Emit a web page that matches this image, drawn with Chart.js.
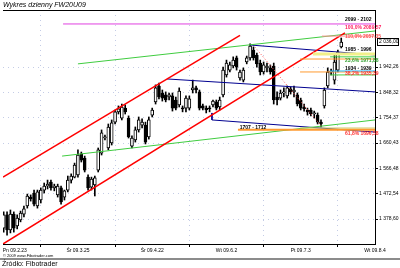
<!DOCTYPE html>
<html><head><meta charset="utf-8">
<script src="https://cdn.jsdelivr.net/npm/chart.js@4.4.0/dist/chart.umd.min.js"></script>
<style>
html,body{margin:0;padding:0;background:#fff;width:400px;height:268px;overflow:hidden;font-family:"Liberation Sans",Arial,sans-serif}
#c{position:absolute;left:0;top:0}
#title{position:absolute;left:3px;top:0px;font-size:7px;font-style:italic;line-height:9px;color:#000;white-space:nowrap}
#copy{position:absolute;left:3px;top:253px;font-size:4px;line-height:5px;color:#000;white-space:nowrap}
#bar{position:absolute;left:0;top:258px;width:400px;height:2px;background:#8c8c8c}
#src{position:absolute;left:2px;top:260px;font-size:7px;line-height:8px;color:#000;white-space:nowrap}
</style></head>
<body>
<canvas id="c" width="400" height="268"></canvas>
<div id="title">Wykres dzienny FW20U09</div>
<div id="copy">© 2009 www.Fibotrader.com</div>
<div id="bar"></div>
<div id="src">Źródło: Fibotrader</div>
<script>
// ---- data ----
const xTickIndex = [0, 22, 44, 66, 88, 110];
const xTickLabels = ["Pn 09.2.23", "Śr 09.3.25", "Śr 09.4.22", "Wt 09.6.2", "Pt 09.7.3", "Wt 09.8.4"];
const yTicks = [1378.60, 1472.54, 1566.48, 1660.43, 1754.37, 1848.32, 1942.26];
const yTickLabels = ["1 378,60", "1 472,54", "1 566,48", "1 660,43", "1 754,37", "1 848,32", "1 942,26"];

const opens = [1345,1394,1338,1397,1353,1375,1397,1427,1460,1475,
1427,1449,1486,1501,1516,1494,1468,1494,1460,1486,
1523,1534,1542,1620,1605,1534,1497,1505,1560,1623,
1679,1642,1661,1738,1776,1753,1790,1753,1649,1672,
1709,1727,1727,1683,1764,1813,1872,1846,1839,1831,
1835,1820,1802,1790,1790,1790,1857,1865,1850,1798,
1790,1790,1802,1813,1794,1839,1913,1931,1946,1976,
1902,1894,1961,1976,2005,1987,1957,1924,1939,1939,
1946,1831,1827,1846,1835,1861,1850,1839,1820,1794,
1783,1783,1768,1764,1738,1798,1872,1924,1894,1931,
2017];
const closes = [1394,1338,1397,1345,1382,1401,1416,1464,1453,1434,
1479,1486,1501,1508,1494,1501,1501,1442,1483,1523,
1538,1579,1616,1597,1560,1494,1527,1531,1635,1698,
1683,1720,1735,1776,1787,1794,1776,1683,1679,1709,
1746,1738,1664,1746,1783,1865,1831,1827,1820,1839,
1790,1790,1853,1787,1827,1824,1865,1857,1790,1790,
1783,1787,1816,1790,1820,1931,1957,1950,1968,1942,
1924,1931,1976,2020,1976,1954,1924,1950,1946,1924,
1820,1820,1846,1850,1865,1850,1857,1805,1790,1787,
1776,1768,1772,1738,1731,1857,1924,1928,1961,1998,
2035];
const highs = [1405,1405,1412,1405,1394,1408,1427,1471,1468,1486,
1486,1494,1512,1523,1523,1508,1508,1501,1486,1538,
1546,1586,1635,1627,1612,1542,1534,1538,1642,1709,
1690,1731,1746,1783,1798,1805,1802,1761,1687,1720,
1757,1750,1738,1757,1790,1876,1883,1857,1850,1846,
1846,1831,1865,1798,1835,1835,1894,1872,1857,1805,
1798,1798,1820,1820,1831,1942,1968,1961,1980,1983,
1931,1939,1983,2028,2017,1994,1968,1961,1957,1950,
1957,1850,1857,1865,1872,1868,1872,1846,1827,1805,
1790,1790,1779,1772,1746,1865,1939,1935,1987,2005,
2050];
const lows = [1330,1319,1327,1330,1342,1368,1386,1419,1445,1427,
1419,1438,1475,1490,1486,1483,1460,1434,1449,1479,
1512,1531,1534,1590,1553,1486,1486,1464,1553,1616,
1672,1635,1653,1731,1768,1746,1768,1679,1642,1664,
1701,1716,1657,1675,1757,1805,1824,1816,1813,1820,
1779,1783,1794,1776,1776,1783,1846,1846,1783,1783,
1772,1776,1794,1783,1783,1831,1905,1924,1939,1931,
1894,1887,1954,1968,1968,1942,1913,1916,1924,1916,
1805,1802,1820,1831,1827,1842,1831,1798,1783,1779,
1764,1761,1753,1731,1720,1790,1865,1913,1879,1924,
2013];

// trend lines (bar index, price)
const redUpper = [{x:-0.2,y:1534},{x:70,y:2060}];
const redLower = [{x:-0.2,y:1286},{x:101.1,y:2069}];
const greenUpper = [{x:22,y:1954},{x:110,y:2076}];
const greenLower = [{x:17.3,y:1612},{x:110,y:1746}];
const blueTop = [{x:73,y:2024},{x:110,y:1987}];
const blueMid = [{x:48.4,y:1898},{x:110,y:1850}];
const blueLow = [{x:61.7,y:1772},{x:61.7,y:1746},{x:110,y:1701}];
const redDotted = [{x:73.9,y:2024},{x:94.3,y:1720}];

// horizontal levels: [price, fromIndex]
const magentaLevel = [2102, 17.6];
const pinkLevel = [2057, 94.3];
const yellowBand = [1990.5, 91.6];
const orangeLevel1 = [1972, 87.8];
const greenLevel1 = [1980, 96.7];
const cyanLevel = [1927.6, 96.7];
const orangeLevel2 = [1924, 87.8];
const greenLevel2 = [1913, 96.7];
const orangeBand = [1709.5, 69.4];
const oliveLevel = [1716, 87.8];

// level texts: [text, index, price]
const levelTexts = [
  ["2099 - 2102", 101.1, 2119],
  ["100,0% 2089,57", 101.1, 2089],
  ["110,0% 2057,35", 101.1, 2055],
  ["1985 - 1996", 101.1, 2006],
  ["23,6% 1971,88", 101.1, 1967],
  ["1934 - 1939", 101.1, 1937],
  ["38,2% 1935,39", 101.1, 1918],
  ["1707 - 1712", 69.9, 1719],
  ["61,8% 1696,58", 101.1, 1697]
];
const levelTextColors = ["#000","#ff2060","#ff5050","#000","#30a030","#000","#ff3030","#000","#ff3030"];
const lastPriceLabel = "2 036,00";

// ---- build ----
const idx = opens.map((_, i) => i);
const wickData = idx.map(i => ({x: i, y: [lows[i], highs[i]]}));
const bodyData = idx.map(i => ({x: i, y: [opens[i], closes[i]]}));
const bodyColors = idx.map(i => closes[i] >= opens[i] ? '#ffffff' : '#000000');

function seg(points, color, width, dash) {
  return {type:'line', data: points, borderColor: color, borderWidth: width, borderDash: dash || [],
    pointRadius: 0, fill: false, tension: 0, order: 0};
}
function hlevel(lv, color, width) {
  return seg([{x: lv[1], y: lv[0]}, {x: 110, y: lv[0]}], color, width);
}

const datasets = [
  hlevel(magentaLevel, '#e040e0', 1),
  hlevel(pinkLevel, '#ff9090', 1),
  hlevel(yellowBand, '#f2f08a', 3),
  hlevel(orangeLevel1, '#ff9a30', 1),
  hlevel(greenLevel1, '#40d040', 1),
  hlevel(cyanLevel, '#20b8ff', 1),
  hlevel(orangeLevel2, '#ff9a30', 1),
  hlevel(greenLevel2, '#40d040', 1),
  hlevel(orangeBand, '#ff9a30', 2),
  hlevel(oliveLevel, '#c8c860', 1),
  seg(redUpper, '#ff0000', 1.5),
  seg(redLower, '#ff0000', 1.5),
  seg(greenUpper, '#40cc40', 1),
  seg(greenLower, '#40cc40', 1),
  seg(blueTop, '#000090', 1),
  seg(blueMid, '#000090', 1),
  seg(blueLow, '#000090', 1),
  seg(redDotted, '#ff5050', 1, [1, 2]),
  {type:'bar', data: bodyData, backgroundColor: bodyColors, borderColor:'#000', borderWidth:1,
   borderSkipped:false, barThickness:3, grouped:false, minBarLength:1, order:1},
  {type:'bar', data: wickData, backgroundColor:'#000', borderWidth:0, barThickness:1, grouped:false, order:2}
];

const extras = {
  id: 'extras',
  afterDraw(chart) {
    const {ctx, chartArea, scales: {x, y}} = chart;
    ctx.save();
    // top border
    ctx.strokeStyle = '#000'; ctx.lineWidth = 1;
    ctx.beginPath(); ctx.moveTo(chartArea.left, chartArea.top + 0.5); ctx.lineTo(chartArea.right, chartArea.top + 0.5); ctx.stroke();
    // level texts
    ctx.font = 'bold 5px "Liberation Sans"';
    ctx.textBaseline = 'middle'; ctx.textAlign = 'left';
    levelTexts.forEach((t, i) => {
      ctx.fillStyle = levelTextColors[i];
      ctx.fillText(t[0], x.getPixelForValue(t[1]), y.getPixelForValue(t[2]));
    });
    // last price box
    const py = Math.round(y.getPixelForValue(closes[closes.length - 1]));
    ctx.fillStyle = '#fff'; ctx.fillRect(377.5, py - 3.5, 21, 7);
    ctx.strokeStyle = '#000'; ctx.strokeRect(377.5, py - 3.5, 21, 7);
    ctx.fillStyle = '#000'; ctx.font = '5px "Liberation Sans"';
    ctx.fillText(lastPriceLabel, 379, py);
    ctx.restore();
  }
};

new Chart(document.getElementById('c'), {
  type: 'bar',
  data: { datasets },
  options: {
    responsive: false, animation: false, devicePixelRatio: 1,
    layout: { padding: { left: 3, top: 10, right: 0, bottom: 0 } },
    plugins: { legend: { display: false }, tooltip: { enabled: false }, title: { display: false } },
    scales: {
      x: {
        type: 'linear', min: -0.2, max: 110, offset: false,
        afterBuildTicks: s => { s.ticks = xTickIndex.map(v => ({ value: v })); },
        afterFit: s => { s.height = 24; s.paddingLeft = 0; s.paddingRight = 0; },
        ticks: { autoSkip: false, maxRotation: 0, minRotation: 0, padding: 1, color: '#000',
          font: { size: 5, family: 'Liberation Sans' },
          callback: (v, i) => (i === 0 ? '                ' : '') + xTickLabels[i] },
        grid: { color: '#c4cce6', drawTicks: true, tickLength: 3, tickColor: '#000' },
        border: { display: true, color: '#000', width: 1, dash: [1, 4] }
      },
      y: {
        type: 'linear', position: 'right', min: 1285.9, max: 2153.8,
        afterBuildTicks: s => { s.ticks = yTicks.map(v => ({ value: v })); },
        afterFit: s => { s.width = 25; s.paddingTop = 0; s.paddingBottom = 0; },
        ticks: { padding: 1, color: '#000', font: { size: 5, family: 'Liberation Sans' },
          callback: (v, i) => yTickLabels[i] },
        grid: { color: '#c4cce6', drawTicks: true, tickLength: 3, tickColor: '#000' },
        border: { display: true, color: '#000', width: 1, dash: [1, 4] }
      }
    }
  },
  plugins: [extras]
});
</script>
</body></html>
